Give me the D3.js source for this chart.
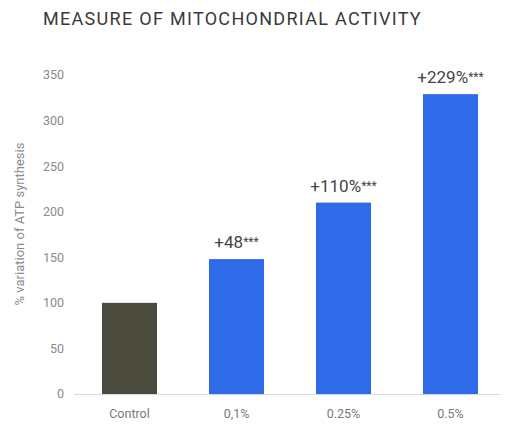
<!DOCTYPE html>
<html>
<head>
<meta charset="utf-8">
<script src="https://cdn.jsdelivr.net/npm/d3@7"></script>
<style>
  body { margin: 0; background: #fff; }
  text { font-family: Roboto, "Noto Sans", sans-serif; }
  .title { font-size: 18px; letter-spacing: 1.3px; }
</style>
</head>
<body>
<div id="chart"></div>
<script>
const width = 510;
const height = 425;

const categories = ["Control", "0,1%", "0.25%", "0.5%"];
const values = [100, 148, 210, 329];
const labels = ["", "+48", "+110%", "+229%"];
const stars = ["", "***", "***", "***"];
const yTicks = [0, 50, 100, 150, 200, 250, 300, 350];

const svg = d3.select("#chart")
    .append("svg")
    .attr("width", width)
    .attr("height", height);

const x = d3.scaleBand()
    .domain(categories)
    .range([76, 504])
    .paddingInner(0.486)
    .paddingOuter(0.243);

const y = d3.scaleLinear()
    .domain([0, 350])
    .range([394, 75]);

// title
svg.append("text")
    .attr("class", "title")
    .attr("x", 43)
    .attr("y", 25)
    .attr("fill", "#3a3a3a")
    .text("MEASURE OF MITOCHONDRIAL ACTIVITY");

// y tick labels
svg.append("g")
    .selectAll("text")
    .data(yTicks)
    .enter()
    .append("text")
    .attr("x", 64)
    .attr("y", d => y(d))
    .attr("dy", "0.35em")
    .attr("text-anchor", "end")
    .attr("fill", "#8a8a8a")
    .style("font-size", "12.5px")
    .text(d => d);

// y axis title
svg.append("text")
    .attr("transform", `translate(24, 224) rotate(-90)`)
    .attr("text-anchor", "middle")
    .attr("fill", "#8a8a8a")
    .style("font-size", "13px")
    .text("% variation of ATP synthesis");

// baseline
svg.append("line")
    .attr("x1", 74)
    .attr("x2", 500)
    .attr("y1", y(0) + 0.5)
    .attr("y2", y(0) + 0.5)
    .attr("stroke", "#d9d9d9");

// bars
svg.append("g")
    .selectAll("rect")
    .data(values)
    .enter()
    .append("rect")
    .attr("x", (d, i) => x(categories[i]))
    .attr("width", x.bandwidth())
    .attr("y", d => y(d))
    .attr("height", d => y(0) - y(d))
    .attr("fill", (d, i) => i === 0 ? "#4b4b3d" : "#2f6ae8");

// value labels
const lab = svg.append("g")
    .selectAll("text")
    .data(values)
    .enter()
    .append("text")
    .attr("x", (d, i) => x(categories[i]) + x.bandwidth() / 2)
    .attr("y", d => y(d) - 11)
    .attr("text-anchor", "middle")
    .attr("fill", "#454545")
    .style("font-size", "17px");

lab.append("tspan").text((d, i) => labels[i]);
lab.append("tspan")
    .attr("dy", "-0.15em")
    .style("font-size", "12px")
    .text((d, i) => stars[i]);

// x labels
svg.append("g")
    .selectAll("text")
    .data(categories)
    .enter()
    .append("text")
    .attr("x", d => x(d) + x.bandwidth() / 2)
    .attr("y", 418)
    .attr("text-anchor", "middle")
    .attr("fill", "#7a7a7a")
    .style("font-size", "12.5px")
    .text(d => d);
</script>
</body>
</html>
